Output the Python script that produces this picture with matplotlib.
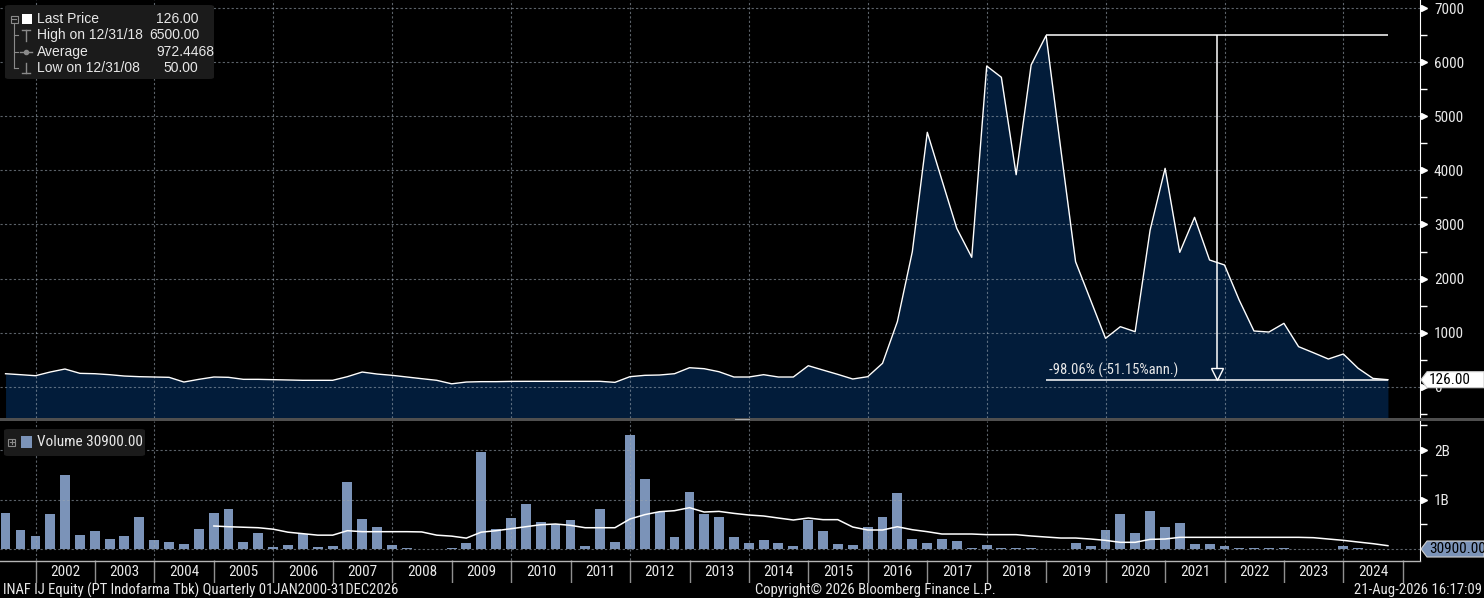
import matplotlib
matplotlib.use("Agg")
import matplotlib.pyplot as plt
from matplotlib import font_manager
from matplotlib.font_manager import FontProperties
from matplotlib.lines import Line2D
from matplotlib.patches import Rectangle, Polygon, FancyBboxPatch
import pandas as pd

# quarterly data, 2001Q2 .. 2024Q3
quarters = pd.period_range("2001Q2", "2024Q3", freq="Q").to_timestamp(how="end").normalize()

price = [237, 219, 200, 268, 324, 244, 237, 219, 194, 182,
         176, 170, 83, 133, 176, 170, 133, 133, 127, 121,
         115, 115, 115, 182, 268, 231, 207, 176, 145, 115,
         50, 83, 90, 90, 95, 96, 96, 96, 96, 96,
         96, 77, 182, 207, 213, 237, 348, 330, 274, 176,
         176, 219, 176, 176, 385, 305, 225, 139, 182, 430,
         1200, 2496, 4707, 3820, 2929, 2392, 5935, 5726, 3922, 5954,
         6500, 4400, 2311, 1602, 892, 1108, 1015, 2898, 4040, 2485,
         3133, 2343, 2250, 1602, 1028, 1009, 1170, 738, 626, 509,
         602, 337, 150, 126]

# volume in billions of shares
volume_b = [0.727, 0.384, 0.263, 0.707, 1.495, 0.283, 0.364, 0.202, 0.263, 0.646,
            0.182, 0.141, 0.101, 0.404, 0.727, 0.808, 0.141, 0.323, 0.04, 0.081,
            0.303, 0.04, 0.06, 1.354, 0.606, 0.444, 0.081, 0.02, 0.01, 0.005,
            0.02, 0.121, 1.96, 0.404, 0.626, 0.909, 0.545, 0.505, 0.586, 0.061,
            0.808, 0.141, 2.30, 1.414, 0.747, 0.242, 1.152, 0.707, 0.646, 0.242,
            0.121, 0.182, 0.121, 0.061, 0.586, 0.364, 0.101, 0.081, 0.444, 0.646,
            1.131, 0.202, 0.121, 0.202, 0.162, 0.02, 0.081, 0.02, 0.02, 0.02,
            0.01, 0.01, 0.121, 0.061, 0.384, 0.707, 0.323, 0.768, 0.444, 0.525,
            0.101, 0.101, 0.061, 0.02, 0.02, 0.02, 0.02, 0.01, 0.01, 0.01,
            0.061, 0.02, 0.005, 0.0000309]

# volume moving average (starts at the 15th quarter)
vol_ma_start = 14
vol_ma_b = [0.465, 0.45, 0.44, 0.43, 0.40, 0.34, 0.31, 0.28, 0.28, 0.37,
            0.35, 0.35, 0.35, 0.35, 0.345, 0.28, 0.26, 0.22, 0.34, 0.37,
            0.41, 0.45, 0.49, 0.505, 0.478, 0.43, 0.43, 0.43, 0.606, 0.694,
            0.754, 0.774, 0.835, 0.747, 0.76, 0.72, 0.687, 0.667, 0.626, 0.586,
            0.626, 0.593, 0.593, 0.444, 0.384, 0.384, 0.45, 0.39, 0.35, 0.303,
            0.303, 0.303, 0.29, 0.29, 0.29, 0.263, 0.242, 0.222, 0.222, 0.202,
            0.175, 0.135, 0.135, 0.195, 0.202, 0.236, 0.236, 0.236, 0.236, 0.236,
            0.236, 0.236, 0.236, 0.236, 0.229, 0.202, 0.175, 0.141, 0.108, 0.067]

years = list(range(2002, 2025))
price_ticks = [0, 1000, 2000, 3000, 4000, 5000, 6000, 7000]
vol_ticks_b = [0, 1, 2]
vol_tick_labels = ["", "1B", "2B"]   # the 0 label sits under the last-volume box

last_price = 126.00
high_price, high_date = 6500.00, "12/31/18"
avg_price = "972.4468"
low_price, low_date = 50.00, "12/31/08"
last_volume = 30900.00
change_text = "-98.06% (-51.15%ann.)"

W, H = 1484, 598
NAVY = "#021c3a"
VOLC = "#7b93b8"
GRIDC = "#9aa5b1"
TXT = "#e8e8e8"


# pick a narrow font if one is installed, else a smaller Liberation Sans
def pick_narrow():
    fl = font_manager.fontManager.ttflist
    names = {f.name for f in fl}
    for n in ["Liberation Sans Narrow", "Roboto Condensed", "Open Sans Condensed",
              "Noto Sans Condensed", "DejaVu Sans Condensed"]:
        if n in names:
            return [n], "normal", 1.0
    for n in ["DejaVu Sans", "Noto Sans", "Roboto", "Open Sans"]:
        for f in fl:
            if f.name == n and str(f.stretch) in ("condensed", "semi-condensed"):
                return [n], "condensed", 1.0
    return ["Liberation Sans", "DejaVu Sans"], "normal", 0.86


NFAM, NSTRETCH, NSCALE = pick_narrow()


def nfont(size):
    return FontProperties(family=NFAM, stretch=NSTRETCH, size=size * NSCALE)


REG = FontProperties(family=["Liberation Sans", "DejaVu Sans"], size=10)


def fx(x):
    return x / W


def fy(y):
    return 1 - y / H


fig = plt.figure(figsize=(W / 100, H / 100), dpi=100, facecolor="black")

def figline(xs, ys, **kw):
    fig.add_artist(Line2D([fx(v) for v in xs], [fy(v) for v in ys],
                          transform=fig.transFigure, **kw))

def figrect(x0, y0, x1, y1, **kw):
    fig.add_artist(Rectangle((fx(x0), fy(y1)), fx(x1) - fx(x0), fy(y0) - fy(y1),
                             transform=fig.transFigure, **kw))

xmin = pd.Timestamp("2001-05-27")
xmax = pd.Timestamp("2025-04-15")
grid_dates = [pd.Timestamp(f"{y}-01-01") for y in range(2002, 2025, 2)]

# ---- price panel ----
ax1 = fig.add_axes([0, fy(418), fx(1420), 418 / H])
ax1.set_facecolor("black")
ax1.set_xlim(xmin, xmax)
ax1.set_ylim(-583, 7157)
ax1.fill_between(quarters, price, -1000, color=NAVY, lw=0, zorder=1)
ax1.plot(quarters, price, color="white", lw=1.0, zorder=3)

ax1.set_axisbelow(False)
ax1.set_xticks(grid_dates)
ax1.set_yticks(price_ticks)
ax1.set_yticks([-500 + 1000 * i for i in range(8)], minor=True)
ax1.grid(True, which="major", color=GRIDC, alpha=0.6, ls=(0, (2, 2)), lw=0.8)
ax1.tick_params(axis="x", length=0, labelbottom=False)
ax1.yaxis.tick_right()
ax1.tick_params(axis="y", which="major", length=0, pad=10, labelcolor=TXT)
ax1.tick_params(axis="y", which="minor", length=5, width=1, color="white")
for lab in ax1.get_yticklabels():
    lab.set_fontproperties(nfont(11))
for s in ["top", "left", "bottom"]:
    ax1.spines[s].set_visible(False)
ax1.spines["right"].set_color("white")
ax1.plot([1.0025] * len(price_ticks), price_ticks, ls="none", marker=">", ms=4.5,
         color="white", transform=ax1.get_yaxis_transform(), clip_on=False)

# high/low annotation
peak_i = price.index(max(price))
d_high = quarters[peak_i]
d_end = quarters[-1]
d_mid = d_high + (d_end - d_high) / 2
ax1.hlines([high_price, last_price], d_high, d_end, color="white", lw=1.1, zorder=4)
ax1.vlines(d_mid, 324, high_price, color="white", lw=1.1, zorder=4)
ax1.plot([d_mid], [231], marker="v", ms=8, mfc="none", mec="white", mew=1, zorder=4)
ax1.annotate(change_text, (d_high, last_price), xytext=(2, 1.5),
             textcoords="offset points", ha="left", va="bottom",
             color=TXT, fontproperties=nfont(10.5), zorder=5)

# ---- volume panel ----
ax2 = fig.add_axes([0, fy(560), fx(1420), 139 / H])
ax2.set_facecolor("black")
ax2.set_xlim(xmin, xmax)
ax2.set_ylim(-0.222e9, 2.586e9)
ax2.bar(quarters, [v * 1e9 for v in volume_b], width=61, color=VOLC, zorder=1)
ax2.plot(quarters[vol_ma_start:], [v * 1e9 for v in vol_ma_b], color="white", lw=1.1, zorder=3)
ax2.set_axisbelow(False)
ax2.set_xticks(grid_dates)
ax2.set_yticks([v * 1e9 for v in vol_ticks_b])
ax2.set_yticklabels(vol_tick_labels)
ax2.set_yticks([0.5e9, 1.5e9, 2.5e9], minor=True)
ax2.grid(True, which="major", color=GRIDC, alpha=0.6, ls=(0, (2, 2)), lw=0.8)
ax2.tick_params(axis="x", length=0, labelbottom=False)
ax2.yaxis.tick_right()
ax2.tick_params(axis="y", which="major", length=0, pad=10, labelcolor=TXT)
ax2.tick_params(axis="y", which="minor", length=5, width=1, color="white")
for lab in ax2.get_yticklabels():
    lab.set_fontproperties(nfont(11))
for s in ["top", "left", "bottom"]:
    ax2.spines[s].set_visible(False)
ax2.spines["right"].set_color("white")
ax2.plot([1.0025] * 2, [1e9, 2e9], ls="none", marker=">", ms=4.5,
         color="white", transform=ax2.get_yaxis_transform(), clip_on=False)

# ---- date strip ----
ax3 = fig.add_axes([0, fy(583), fx(1420), 23 / H])
ax3.set_facecolor("black")
ax3.set_xlim(xmin, xmax)
ax3.set_ylim(0, 1)
ax3.axis("off")
ax3.vlines([pd.Timestamp(f"{y}-01-01") for y in years + [2025]], 0, 1, color="#8f8f8f", lw=1)
for y in years:
    ax3.text(pd.Timestamp(f"{y}-07-02"), 0.5, str(y), ha="center", va="center",
             color=TXT, fontproperties=nfont(11))

figline([0, 1420], [560.5, 560.5], color="#b5b5b5", lw=1)

# panel separator
figrect(0, 417.5, W, 421, color="#4f4f4f", lw=0)
figrect(735, 418.5, 750, 420, color="#a8a8a8", lw=0)

# right-side value boxes
def value_box(ax, val, text, face):
    yc = H - ax.transData.transform((0, val))[1]
    pts = [(1421, yc), (1427, yc - 8), (1484, yc - 8), (1484, yc + 8), (1427, yc + 8)]
    fig.add_artist(Polygon([(fx(a), fy(b)) for a, b in pts], closed=True, fc=face,
                           ec="#d0d0d0", lw=0.8, transform=fig.transFigure, zorder=10))
    fig.text(fx(1429), fy(yc), text, ha="left", va="center", color="black",
             fontproperties=nfont(11), zorder=11)

value_box(ax1, last_price, f"{last_price:.2f}", "white")
value_box(ax2, last_volume, f"{last_volume:.2f}", VOLC)

# ---- legend (price) ----
fig.add_artist(FancyBboxPatch((fx(5), fy(79)), fx(209), 74 / H,
                              boxstyle="round,pad=0,rounding_size=0.003",
                              transform=fig.transFigure, fc="#1b1b1b", ec="none", zorder=5))
LC = "#8a8a8a"
figrect(10.5, 15.5, 17.5, 22.5, fill=False, ec=LC, lw=0.8, zorder=6)
figline([12, 16], [19, 19], color=LC, lw=0.8, zorder=6)
figline([14, 14], [23, 68], color=LC, lw=0.8, zorder=6)
for yy in (35, 52, 68):
    figline([14, 18], [yy, yy], color=LC, lw=0.8, zorder=6)
figrect(22, 14, 32, 24, color="white", lw=0, zorder=6)
figline([22, 30], [30, 30], color=LC, lw=1, zorder=6)
figline([26, 26], [30, 41], color=LC, lw=1, zorder=6)
figline([20, 32], [52, 52], color=LC, lw=1, zorder=6)
fig.add_artist(Line2D([fx(26)], [fy(52)], marker="o", ms=3, color=LC,
                      transform=fig.transFigure, zorder=6))
figline([26, 26], [63, 73], color=LC, lw=1, zorder=6)
figline([22, 30], [73, 73], color=LC, lw=1, zorder=6)

rows = [("Last Price", f"{last_price:.2f}", 156, 19),
        (f"High on {high_date}", f"{high_price:.2f}", 149, 35),
        ("Average", avg_price, 156, 52),
        (f"Low on {low_date}", f"{low_price:.2f}", 163, 68)]
for lab, val, xv, yy in rows:
    fig.text(fx(37), fy(yy), lab, ha="left", va="center", color=TXT,
             fontproperties=REG, zorder=7)
    fig.text(fx(xv), fy(yy), val, ha="left", va="center", color=TXT,
             fontproperties=REG, zorder=7)

# ---- legend (volume) ----
fig.add_artist(FancyBboxPatch((fx(4), fy(456)), fx(141), 27 / H,
                              boxstyle="round,pad=0,rounding_size=0.003",
                              transform=fig.transFigure, fc="#1b1b1b", ec="none", zorder=5))
figrect(8, 438.5, 15, 445.5, fill=False, ec=LC, lw=0.8, zorder=6)
figline([9.5, 13.5], [442, 442], color=LC, lw=0.8, zorder=6)
figline([11.5, 11.5], [440, 444], color=LC, lw=0.8, zorder=6)
figrect(21, 436, 32, 448, color=VOLC, lw=0, zorder=6)
fig.text(fx(37), fy(442), f"Volume {last_volume:.2f}", ha="left", va="center",
         color=TXT, fontproperties=nfont(11), zorder=7)

# ---- footer ----
fig.text(fx(3), fy(590), "INAF IJ Equity (PT Indofarma Tbk) Quarterly 01JAN2000-31DEC2026",
         ha="left", va="center", color=TXT, fontproperties=nfont(10.5))
fig.text(fx(755), fy(590), "Copyright\u00a9 2026 Bloomberg Finance L.P.",
         ha="left", va="center", color=TXT, fontproperties=nfont(10.5))
fig.text(fx(1482), fy(590), "21-Aug-2026 16:17:09",
         ha="right", va="center", color=TXT, fontproperties=nfont(10.5))

fig.savefig("out.png", dpi=100, facecolor="black")
